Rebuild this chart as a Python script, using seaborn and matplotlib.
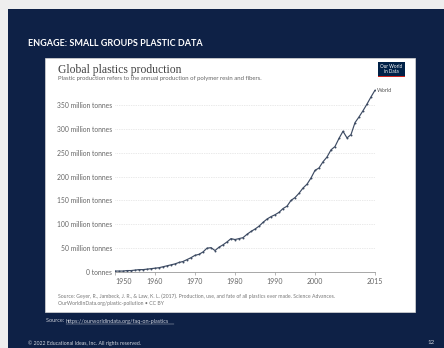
import matplotlib
matplotlib.use("Agg")
import matplotlib.pyplot as plt
from matplotlib.patches import Rectangle
import seaborn as sns
import pandas as pd

# Annual global plastics production (million tonnes), Geyer et al. 2017
years = list(range(1950, 2016))
production = [
    2, 2, 2, 3, 3, 4, 5, 5, 6, 7,
    8, 9, 11, 13, 15, 17, 20, 22, 26, 30,
    35, 37, 42, 50, 51, 45, 52, 57, 63, 70,
    68, 70, 72, 79, 85, 90, 96, 104, 111, 116,
    120, 125, 133, 138, 150, 156, 165, 176, 184, 197,
    213, 218, 231, 241, 256, 263, 280, 295, 281, 288,
    313, 325, 338, 352, 367, 381,
]
y_ticks = [0, 50, 100, 150, 200, 250, 300, 350]
y_tick_labels = ["0 tonnes"] + [f"{v} million tonnes" for v in y_ticks[1:]]
x_ticks = [1950, 1960, 1970, 1980, 1990, 2000, 2015]

df = pd.DataFrame({"Year": years, "Production": production})

sns.set_theme(style="white")
plt.rcParams["font.family"] = ["Lato", "DejaVu Sans"]

W, H = 444, 348
fig = plt.figure(figsize=(W / 100, H / 100), dpi=100)
fig.patch.set_facecolor("#eeeeee")


def fx(px):
    return px / W


def fy(py):
    return 1 - py / H


NAVY = "#0e2146"
# slide background
fig.patches.append(Rectangle((fx(8), 0), 1 - fx(8), fy(9), transform=fig.transFigure,
                             facecolor=NAVY, edgecolor="none", zorder=0))
# white chart card
fig.patches.append(Rectangle((fx(45), fy(312)), fx(415 - 45), (312 - 58) / H,
                             transform=fig.transFigure, facecolor="white",
                             edgecolor="#d8d8d8", linewidth=0.5, zorder=1))

fig.text(fx(28), fy(43), "ENGAGE: SMALL GROUPS PLASTIC DATA", color="white",
         fontsize=6.5, fontweight="bold", va="center", ha="left")

# chart heading
fig.text(fx(58), fy(70), "Global plastics production", family=["Liberation Serif"],
         fontsize=8.4, color="#444444", va="center", ha="left")
fig.text(fx(58), fy(78.5), "Plastic production refers to the annual production of polymer resin and fibers.",
         fontsize=4.3, color="#666666", va="center", ha="left")

# logo
fig.patches.append(Rectangle((fx(378), fy(76)), fx(27), 14 / H, transform=fig.transFigure,
                             facecolor="#002147", edgecolor="none", zorder=3))
fig.patches.append(Rectangle((fx(378), fy(77)), fx(27), 1.2 / H, transform=fig.transFigure,
                             facecolor="#ce261e", edgecolor="none", zorder=3))
fig.text(fx(391.5), fy(69), "Our World\nin Data", color="white", fontsize=3.3,
         ha="center", va="center", linespacing=1.0, zorder=4)

# plot area
y_max = 385
px_per = (272 - 105) / 350
ax = fig.add_axes([fx(115), fy(272), fx(375 - 115), y_max * px_per / H])
ax.set_zorder(2)
ax.patch.set_alpha(0)

sns.lineplot(data=df, x="Year", y="Production", ax=ax, color="#3d4b63",
             linewidth=0.85, marker="o", markersize=1.4, markeredgewidth=0)

ax.set_xlim(1950, 2015)
ax.set_ylim(0, y_max)
ax.set_yticks(y_ticks)
ax.set_yticklabels(y_tick_labels)
ax.set_xticks(x_ticks)
ax.set_xticklabels([str(x) for x in x_ticks])
ax.xaxis.get_majorticklabels()[0].set_horizontalalignment("left")
ax.set_xlabel("")
ax.set_ylabel("")
for s in ["top", "right", "left"]:
    ax.spines[s].set_visible(False)
ax.spines["bottom"].set_color("#999999")
ax.spines["bottom"].set_linewidth(0.6)
ax.tick_params(axis="y", length=0, pad=2, labelsize=4.9, labelcolor="#666666")
ax.tick_params(axis="x", length=2.5, width=0.5, color="#999999", pad=1.5,
               labelsize=5.0, labelcolor="#666666", bottom=True)
for v in y_ticks[1:]:
    ax.axhline(v, color="#d4d4d4", linewidth=0.5, linestyle=(0, (1, 1.5)), zorder=0)
ax.grid(False)

ax.text(2015.6, production[-1], "World", fontsize=4.0, color="#555555",
        va="center", ha="left", clip_on=False)

fig.text(fx(58), fy(296.5),
         "Source: Geyer, R., Jambeck, J. R., & Law, K. L. (2017). Production, use, and fate of all plastics ever made. Science Advances.",
         fontsize=3.7, color="#777777", va="center", ha="left")
fig.text(fx(58), fy(303.5), "OurWorldInData.org/plastic-pollution \u2022 CC BY",
         fontsize=3.7, color="#777777", va="center", ha="left")

fig.text(fx(46), fy(321), "Source: ", fontsize=4.0, color="#c8ccd6", va="center", ha="left")
fig.text(fx(66), fy(321), "https://ourworldindata.org/faq-on-plastics", fontsize=4.0,
         color="#c8ccd6", va="center", ha="left")
fig.add_artist(plt.Line2D([fx(66), fx(174)], [fy(323.8), fy(323.8)],
                          transform=fig.transFigure, color="#c8ccd6", linewidth=0.3))

fig.text(fx(28), fy(343), "\u00a9 2022 Educational Ideas, Inc. All rights reserved.",
         fontsize=3.7, color="#d0d4dd", va="center", ha="left")
fig.text(fx(431), fy(343), "12", fontsize=4.4, color="#d0d4dd", va="center", ha="center")

fig.savefig("out.png", dpi=100, facecolor=fig.get_facecolor())
